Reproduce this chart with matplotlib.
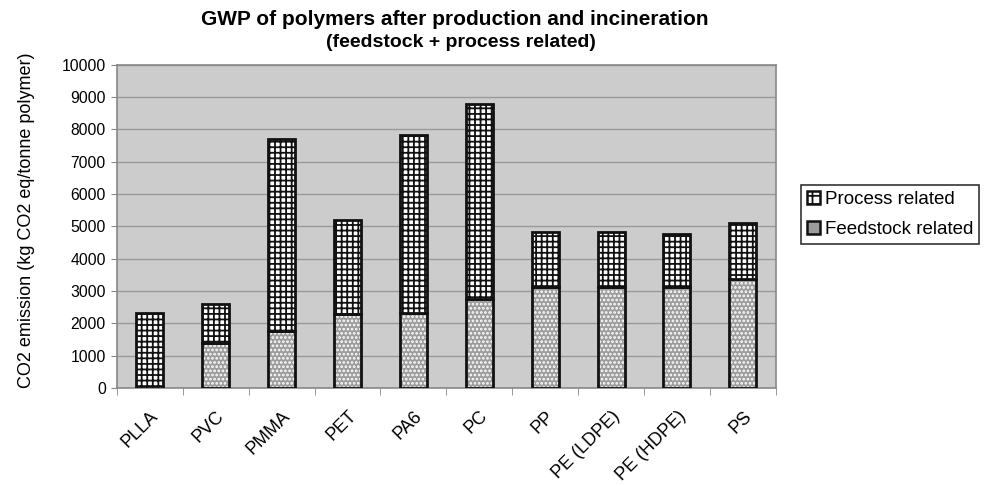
import numpy as np
import matplotlib.pyplot as plt

plt.rcParams['font.family'] = ['Liberation Sans', 'DejaVu Sans']
plt.rcParams['hatch.linewidth'] = 1.3

# polymers and their GWP (kg CO2 eq / tonne polymer)
polymers = ['PLLA', 'PVC', 'PMMA', 'PET', 'PA6', 'PC', 'PP', 'PE (LDPE)', 'PE (HDPE)', 'PS']
feedstock = [0, 1390, 1770, 2280, 2320, 2760, 3130, 3130, 3130, 3380]
totals = [2320, 2610, 7690, 5190, 7830, 8780, 4840, 4840, 4760, 5090]
process = [t - f for t, f in zip(totals, feedstock)]

fig = plt.figure(figsize=(9.87, 4.86), dpi=100)
ax = fig.add_axes([0.1185, 0.2016, 0.6675, 0.6652])
ax.set_facecolor('#cccccc')

x = np.arange(len(polymers))
w = 0.41
gray = '#9c9c9c'

# feedstock part: grey with white dots
ax.bar(x, feedstock, w, color=gray, edgecolor='white', hatch='....', linewidth=0, zorder=2)
ax.bar(x, feedstock, w, fill=False, edgecolor='#111111', linewidth=2.0, zorder=3)
# process part: white with black grid
ax.bar(x, process, w, bottom=feedstock, color='white', edgecolor='#111111', hatch='+++',
       linewidth=2.0, zorder=3)

ax.set_xlim(-0.5, len(polymers) - 0.5)
ax.set_ylim(0, 10000)
ax.set_yticks(np.arange(0, 10001, 1000))
ax.tick_params(axis='y', labelsize=11.3, length=4, color='#888888', pad=4)
ax.yaxis.grid(True, color='#999999', linewidth=1)
ax.set_axisbelow(True)

ax.set_xticks(x)
ax.set_xticklabels(polymers, rotation=45, ha='right', va='top', rotation_mode='anchor', fontsize=13)
ax.tick_params(axis='x', length=0, pad=14)
ax.set_xticks(np.arange(-0.5, len(polymers)), minor=True)
ax.tick_params(axis='x', which='minor', length=5, color='#888888')

for s in ax.spines.values():
    s.set_color('#888888')
    s.set_linewidth(1.2)

ax.set_ylabel('CO2 emission (kg CO2 eq/tonne polymer)', fontsize=13)
ax.yaxis.set_label_coords(-0.124, 0.518)

fig.text(0.461, 0.959, 'GWP of polymers after production and incineration',
         ha='center', va='center', fontsize=15, fontweight='bold')
fig.text(0.467, 0.912, '(feedstock + process related)',
         ha='center', va='center', fontsize=14, fontweight='bold')

h1 = plt.Rectangle((0, 0), 1, 1, facecolor='white', edgecolor='#111111', hatch='++', linewidth=1.8)
h2 = plt.Rectangle((0, 0), 1, 1, facecolor=gray, edgecolor='#111111', linewidth=1.8)
leg = fig.legend([h1, h2], ['Process related', 'Feedstock related'],
                 loc='upper left', bbox_to_anchor=(0.8116, 0.6193), borderaxespad=0,
                 fontsize=13.5, frameon=True, fancybox=False, edgecolor='black',
                 handlelength=0.7, handleheight=0.7, handletextpad=0.3,
                 borderpad=0.3, labelspacing=0.7)
leg.get_frame().set_linewidth(1.2)

fig.savefig('out.png', dpi=100)
